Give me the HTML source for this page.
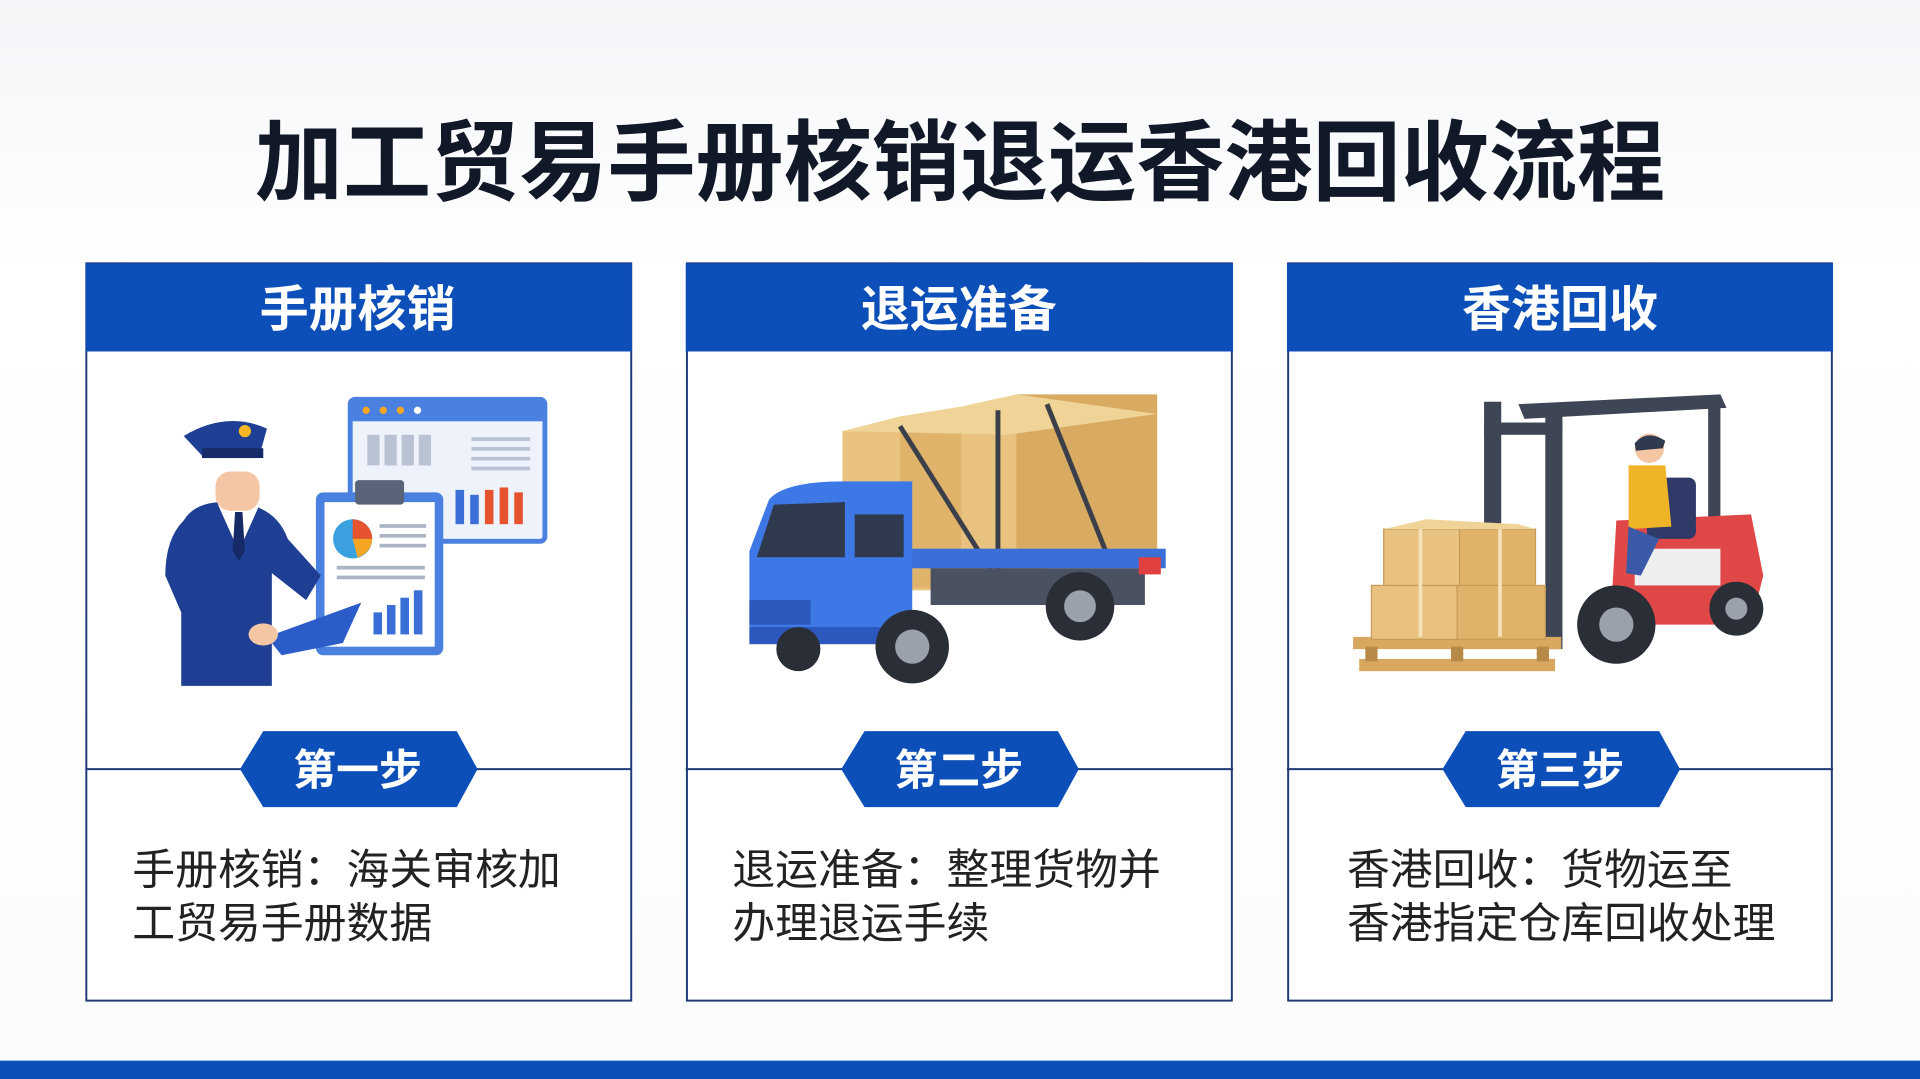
<!DOCTYPE html>
<html><head><meta charset="utf-8"><style>
html,body{margin:0;padding:0;background:#fff;width:1920px;height:1079px;overflow:hidden}
svg{display:block}
text{font-family:"Liberation Sans","Noto Sans CJK SC",sans-serif}
</style></head><body>
<svg width="1920" height="1079" viewBox="0 0 1568 881" preserveAspectRatio="none" xmlns="http://www.w3.org/2000/svg">
<defs>
<linearGradient id="bg" x1="0" y1="0" x2="0" y2="1"><stop offset="0" stop-color="#f3f5f8"/><stop offset="0.25" stop-color="#ffffff"/><stop offset="1" stop-color="#fbfcfd"/></linearGradient>
</defs>
<rect width="1568" height="881" fill="url(#bg)"/>
<text x="784" y="158" text-anchor="middle" font-size="72" font-weight="bold" fill="#111827">加工贸易手册核销退运香港回收流程</text>

<!-- cards -->
<g id="cards">
<rect x="70.5" y="215" width="445" height="602" fill="#fff" stroke="#1e3a78" stroke-width="1.6"/>
<rect x="70" y="215" width="446" height="72" fill="#0d4fb8"/>
<text x="292" y="266" text-anchor="middle" font-size="40" font-weight="bold" fill="#fff">手册核销</text>
<line x1="70" y1="628" x2="516" y2="628" stroke="#1e3a78" stroke-width="1.6"/>
<path d="M215 597 H373 L390 628 L373 659 H215 L196 628 Z" fill="#0d4fb8"/>
<text x="292" y="641" text-anchor="middle" font-size="35" font-weight="bold" fill="#fff">第一步</text>
<text x="108" y="722" font-size="35" fill="#222">手册核销：海关审核加</text>
<text x="108" y="766" font-size="35" fill="#222">工贸易手册数据</text>

<rect x="561" y="215" width="445" height="602" fill="#fff" stroke="#1e3a78" stroke-width="1.6"/>
<rect x="560" y="215" width="447" height="72" fill="#0d4fb8"/>
<text x="783" y="266" text-anchor="middle" font-size="40" font-weight="bold" fill="#fff">退运准备</text>
<line x1="560" y1="628" x2="1007" y2="628" stroke="#1e3a78" stroke-width="1.6"/>
<path d="M706 597 H864 L881 628 L864 659 H706 L687 628 Z" fill="#0d4fb8"/>
<text x="783" y="641" text-anchor="middle" font-size="35" font-weight="bold" fill="#fff">第二步</text>
<text x="598" y="722" font-size="35" fill="#222">退运准备：整理货物并</text>
<text x="598" y="766" font-size="35" fill="#222">办理退运手续</text>

<rect x="1052" y="215" width="444" height="602" fill="#fff" stroke="#1e3a78" stroke-width="1.6"/>
<rect x="1051" y="215" width="446" height="72" fill="#0d4fb8"/>
<text x="1274" y="266" text-anchor="middle" font-size="40" font-weight="bold" fill="#fff">香港回收</text>
<line x1="1051" y1="628" x2="1497" y2="628" stroke="#1e3a78" stroke-width="1.6"/>
<path d="M1197 597 H1355 L1372 628 L1355 659 H1197 L1178 628 Z" fill="#0d4fb8"/>
<text x="1274" y="641" text-anchor="middle" font-size="35" font-weight="bold" fill="#fff">第三步</text>
<text x="1100" y="722" font-size="35" fill="#222">香港回收：货物运至</text>
<text x="1100" y="766" font-size="35" fill="#222">香港指定仓库回收处理</text>
</g>

<!-- illustration 1 -->
<g>
<rect x="286" y="326" width="159" height="116" rx="4" fill="#eef3fb" stroke="#4a80e0" stroke-width="4"/>
<rect x="286" y="326" width="159" height="18" fill="#4a80e0"/>
<circle cx="299" cy="335" r="3" fill="#f6a623"/><circle cx="313" cy="335" r="3" fill="#f6a623"/><circle cx="327" cy="335" r="3" fill="#f6a623"/><circle cx="341" cy="335" r="3" fill="#fff"/>
<g fill="#b8c2d2"><rect x="300" y="355" width="10" height="25"/><rect x="314" y="355" width="10" height="25"/><rect x="328" y="355" width="10" height="25"/><rect x="342" y="355" width="10" height="25"/></g>
<g fill="#b8c2d2"><rect x="385" y="357" width="48" height="3"/><rect x="385" y="365" width="48" height="3"/><rect x="385" y="373" width="48" height="3"/><rect x="385" y="381" width="48" height="3"/></g>
<rect x="372" y="400" width="7" height="28" fill="#3b6fd8"/><rect x="384" y="404" width="7" height="24" fill="#3b6fd8"/><rect x="396" y="400" width="7" height="28" fill="#e6532f"/><rect x="408" y="398" width="7" height="30" fill="#e6532f"/><rect x="420" y="402" width="7" height="26" fill="#e6532f"/>
<rect x="258" y="402" width="104" height="133" rx="6" fill="#4a80e0"/>
<rect x="265" y="410" width="90" height="118" fill="#fff"/>
<rect x="290" y="392" width="40" height="20" rx="3" fill="#5a6478"/>
<circle cx="288" cy="440" r="16" fill="#3aa0e0"/><path d="M288 440 L288 424 A16 16 0 0 1 304 440 Z" fill="#e6532f"/><path d="M288 440 L304 440 A16 16 0 0 1 292 455 Z" fill="#f6a623"/>
<g fill="#aab4c4"><rect x="310" y="428" width="38" height="3"/><rect x="310" y="436" width="38" height="3"/><rect x="310" y="444" width="38" height="3"/><rect x="275" y="462" width="72" height="3"/><rect x="275" y="470" width="72" height="3"/></g>
<rect x="305" y="500" width="7" height="18" fill="#3b6fd8"/><rect x="316" y="494" width="7" height="24" fill="#3b6fd8"/><rect x="327" y="488" width="7" height="30" fill="#3b6fd8"/><rect x="338" y="482" width="7" height="36" fill="#3b6fd8"/>
<path d="M150 425 Q160 408 190 410 Q225 412 235 440 L262 470 L250 490 L222 468 L222 560 H148 V500 L135 470 Q135 440 150 425 Z" fill="#1f3f94"/>
<path d="M178 412 L195 450 L212 412 Z" fill="#fff"/><path d="M192 418 L198 418 L200 450 L195 458 L190 450 Z" fill="#152a66"/>
<rect x="176" y="385" width="36" height="32" rx="12" fill="#f4c6a4"/>
<path d="M150 356 Q185 335 218 350 L213 368 L165 372 Z" fill="#1f3f94"/><rect x="165" y="366" width="50" height="8" fill="#152a66"/><circle cx="200" cy="352" r="5" fill="#f6b623"/>
<path d="M218 520 L295 492 L280 525 L230 535 Z" fill="#2b5cc8"/>
<ellipse cx="215" cy="518" rx="12" ry="9" fill="#f4c6a4"/>
</g>

<!-- illustration 2 -->
<g>
<rect x="688" y="352" width="135" height="130" fill="#e8c27e"/>
<rect x="735" y="340" width="120" height="140" fill="#dfb36a"/>
<rect x="785" y="332" width="160" height="120" fill="#e8c27e"/>
<rect x="830" y="322" width="115" height="130" fill="#d9ab62"/>
<path d="M688 352 L735 340 L785 332 L830 322 L945 338 L823 355 Z" fill="#f0d396"/>
<line x1="735" y1="348" x2="815" y2="475" stroke="#3a3f4a" stroke-width="4"/><line x1="815" y1="335" x2="815" y2="478" stroke="#3a3f4a" stroke-width="4"/><line x1="855" y1="330" x2="905" y2="455" stroke="#3a3f4a" stroke-width="4"/>
<rect x="740" y="448" width="212" height="16" fill="#3b6fd8"/>
<rect x="760" y="464" width="175" height="30" fill="#4a5160"/>
<path d="M628 408 Q640 393 690 393 H745 V520 H612 V450 Z" fill="#3d78e6"/>
<path d="M632 412 L690 410 L690 455 L618 455 Z" fill="#2f3a4e"/><rect x="698" y="420" width="40" height="35" fill="#2f3a4e"/>
<rect x="612" y="490" width="50" height="20" fill="#2c58bd"/><rect x="612" y="512" width="110" height="14" fill="#2c58bd"/>
<circle cx="745" cy="528" r="30" fill="#2a2e36"/><circle cx="745" cy="528" r="14" fill="#9aa1ad"/>
<circle cx="882" cy="495" r="28" fill="#2a2e36"/><circle cx="882" cy="495" r="13" fill="#9aa1ad"/>
<circle cx="652" cy="530" r="18" fill="#2a2e36"/>
<rect x="930" y="455" width="18" height="14" fill="#e04040"/>
</g>

<!-- illustration 3 -->
<g>
<rect x="1212" y="328" width="14" height="200" fill="#3e4656"/><rect x="1262" y="335" width="14" height="195" fill="#3e4656"/>
<rect x="1212" y="345" width="64" height="10" fill="#3e4656"/>
<path d="M1240 330 L1405 322 L1410 333 L1245 342 Z" fill="#3e4656"/><rect x="1395" y="328" width="10" height="100" fill="#3e4656"/>
<path d="M1320 425 L1430 420 L1440 470 L1430 510 H1315 Z" fill="#e04848"/>
<rect x="1335" y="448" width="70" height="30" fill="#eee"/>
<rect x="1345" y="390" width="40" height="50" rx="6" fill="#2f3a68"/>
<circle cx="1347" cy="366" r="12" fill="#f4c6a4"/><path d="M1335 362 Q1345 350 1360 360 L1358 366 L1336 368 Z" fill="#2f3a4e"/>
<path d="M1330 380 L1360 380 L1365 430 L1330 432 Z" fill="#f0b428"/>
<path d="M1330 430 L1355 440 L1340 470 L1328 468 Z" fill="#3a5aa8"/>
<circle cx="1320" cy="510" r="32" fill="#2a2e36"/><circle cx="1320" cy="510" r="14" fill="#9aa1ad"/>
<circle cx="1418" cy="497" r="22" fill="#2a2e36"/><circle cx="1418" cy="497" r="9" fill="#9aa1ad"/>
<rect x="1105" y="520" width="170" height="10" fill="#d9a860"/><rect x="1110" y="538" width="160" height="10" fill="#d9a860"/>
<rect x="1115" y="528" width="10" height="12" fill="#b88a48"/><rect x="1185" y="528" width="10" height="12" fill="#b88a48"/><rect x="1255" y="528" width="10" height="12" fill="#b88a48"/>
<rect x="1120" y="478" width="70" height="44" fill="#e8c27e" stroke="#c89a58"/><rect x="1190" y="478" width="72" height="44" fill="#dfb36a" stroke="#c89a58"/>
<rect x="1130" y="432" width="62" height="46" fill="#e8c27e" stroke="#c89a58"/><rect x="1192" y="432" width="62" height="46" fill="#dfb36a" stroke="#c89a58"/>
<path d="M1130 432 L1165 424 L1240 428 L1254 432 Z" fill="#f0d396"/>
<line x1="1160" y1="432" x2="1160" y2="520" stroke="#f3e2bb" stroke-width="3"/><line x1="1225" y1="432" x2="1225" y2="520" stroke="#f3e2bb" stroke-width="3"/>
</g>

<rect x="0" y="866" width="1568" height="15" fill="#0d4fb8"/>
</svg>
</body></html>
